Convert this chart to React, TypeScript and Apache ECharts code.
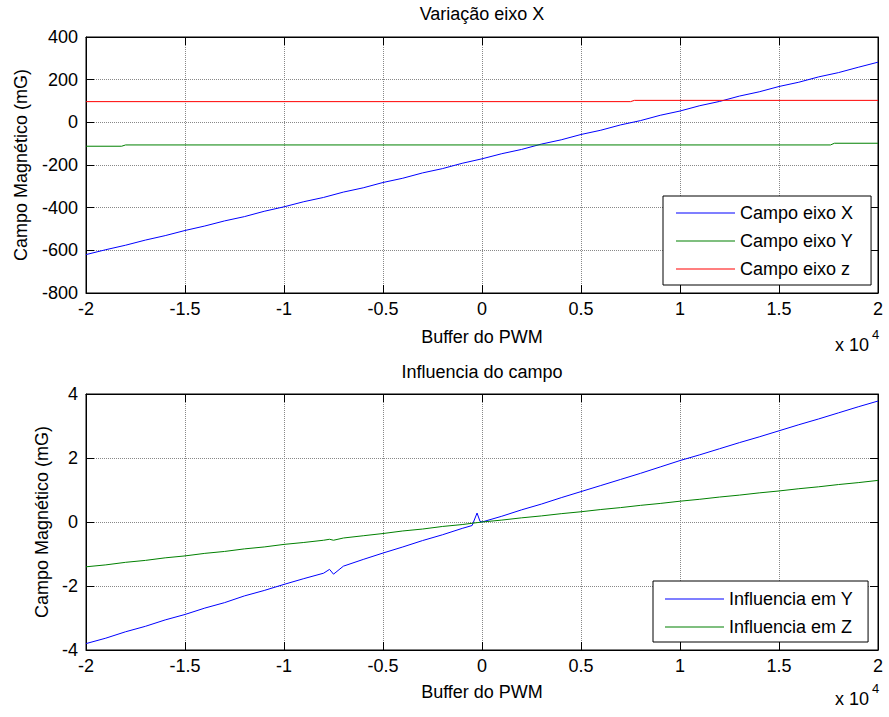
import React, { useEffect, useRef } from "react";
import * as echarts from "echarts";

const FONT = "Liberation Sans, Arial, Helvetica, sans-serif";

// ---- Top subplot: "Variação eixo X" ----
const pwmBuffer = [
  -20000, -19000, -18000, -17000, -16000, -15000, -14000, -13000, -12000, -11000,
  -10000, -9000, -8000, -7000, -6000, -5000, -4000, -3000, -2000, -1000,
  0, 1000, 2000, 3000, 4000, 5000, 6000, 7000, 8000, 9000,
  10000, 11000, 12000, 13000, 14000, 15000, 16000, 17000, 18000, 19000, 20000,
];
const campoEixoX = [
  -620, -597, -576, -552, -531, -507, -486, -462, -442, -417,
  -396, -372, -352, -327, -307, -282, -262, -237, -217, -192,
  -171, -147, -127, -102, -82, -57, -37, -12, 8, 33,
  53, 78, 98, 123, 143, 168, 188, 213, 233, 258, 282,
];
const campoEixoYX = [-20000, -18200, -18000, 17600, 17800, 20000];
const campoEixoY = [-112, -112, -106, -106, -98, -98];
const campoEixoZX = [-20000, 7500, 7700, 20000];
const campoEixoZ = [97, 97, 103, 103];

// ---- Bottom subplot: "Influencia do campo" ----
const pwmBuffer2 = [
  -20000, -19000, -18000, -17000, -16000, -15000, -14000, -13000, -12000, -11000,
  -10000, -9000, -8000, -7700, -7500, -7000, -6000, -5000, -4000, -3000,
  -2000, -1000, -500, -250, -100, 0, 1000, 2000, 3000, 4000,
  5000, 6000, 7000, 8000, 9000, 10000, 11000, 12000, 13000, 14000,
  15000, 16000, 17000, 18000, 19000, 20000,
];
const influenciaY = [
  -3.8, -3.63, -3.43, -3.26, -3.06, -2.89, -2.69, -2.52, -2.31, -2.14,
  -1.95, -1.77, -1.6, -1.48, -1.63, -1.38, -1.17, -0.97, -0.78, -0.58,
  -0.4, -0.2, -0.11, 0.28, 0.02, 0.0, 0.18, 0.38, 0.56, 0.76,
  0.95, 1.14, 1.33, 1.52, 1.72, 1.92, 2.1, 2.29, 2.48, 2.66,
  2.85, 3.04, 3.22, 3.41, 3.6, 3.78,
];
const influenciaZ = [
  -1.4, -1.34, -1.26, -1.2, -1.12, -1.06, -0.98, -0.92, -0.84, -0.78,
  -0.7, -0.64, -0.57, -0.54, -0.57, -0.5, -0.43, -0.36, -0.28, -0.22,
  -0.14, -0.08, -0.04, -0.02, -0.01, 0.0, 0.06, 0.13, 0.19, 0.26,
  0.32, 0.39, 0.45, 0.52, 0.58, 0.65, 0.71, 0.78, 0.84, 0.91,
  0.97, 1.04, 1.1, 1.17, 1.23, 1.3,
];

const xTickLabels = (v: number) => String(v / 10000);

const zip = (xs: number[], ys: number[]) => xs.map((x, i) => [x, ys[i]]);

const GRID_LINE = { color: "#888888", type: [1, 1], width: 1 };

function makeX(gridIndex: number, position: "bottom" | "top") {
  const main = position === "bottom";
  return {
    type: "value",
    gridIndex,
    position,
    min: -20000,
    max: 20000,
    interval: 5000,
    axisLine: { show: true, onZero: false, lineStyle: { color: "#000", width: 1 } },
    axisTick: { show: true, inside: true, length: 8, lineStyle: { color: "#000" } },
    axisLabel: {
      show: main,
      formatter: xTickLabels,
      fontSize: 18,
      color: "#000",
      fontFamily: FONT,
      margin: 7,
    },
    splitLine: { show: main, lineStyle: GRID_LINE },
  };
}

function makeY(gridIndex: number, position: "left" | "right", min: number, max: number, interval: number) {
  const main = position === "left";
  return {
    type: "value",
    gridIndex,
    position,
    min,
    max,
    interval,
    axisLine: { show: true, onZero: false, lineStyle: { color: "#000", width: 1 } },
    axisTick: { show: true, inside: true, length: 8, lineStyle: { color: "#000" } },
    axisLabel: {
      show: main,
      fontSize: 18,
      color: "#000",
      fontFamily: FONT,
      margin: 8,
    },
    splitLine: { show: main, lineStyle: GRID_LINE },
  };
}

function lineSeries(name: string, data: number[][], color: string, axisIdx: number) {
  return {
    name,
    type: "line",
    xAxisIndex: axisIdx,
    yAxisIndex: axisIdx,
    data,
    symbol: "none",
    showSymbol: false,
    clip: true,
    lineStyle: { color, width: 1 },
    itemStyle: { color },
    emphasis: { disabled: true },
  };
}

const legendBase = {
  orient: "vertical",
  selectedMode: false,
  backgroundColor: "#fff",
  borderColor: "#000",
  borderWidth: 1,
  borderRadius: 0,
  icon: "rect",
  itemWidth: 59,
  itemHeight: 1,
  itemGap: 8,
  textStyle: { fontSize: 18, color: "#000", fontFamily: FONT, lineHeight: 20 },
};

export default function App() {
  const ref = useRef<HTMLDivElement>(null);

  useEffect(() => {
    if (!ref.current) return;
    const chart = echarts.init(ref.current, undefined, { renderer: "svg" });
    const titleStyle = { fontSize: 18, fontWeight: "normal", color: "#000", fontFamily: FONT };
    const txt = (text: string, x: number, y: number, extra: any = {}) => ({
      type: "text",
      x,
      y,
      ...extra,
      style: { text, fontSize: 18, fill: "#000", fontFamily: FONT, align: "center", verticalAlign: "middle", ...(extra.style || {}) },
    });
    chart.setOption({
      animation: false,
      backgroundColor: "#fff",
      textStyle: { fontFamily: FONT },
      title: [
        { text: "Variação eixo X", left: 482, top: 5, textAlign: "center", padding: 0, textStyle: titleStyle },
        { text: "Influencia do campo", left: 482, top: 363, textAlign: "center", padding: 0, textStyle: titleStyle },
      ],
      grid: [
        { left: 86, top: 37, width: 792, height: 256, show: true, borderColor: "#000", borderWidth: 1, backgroundColor: "#fff" },
        { left: 86, top: 394, width: 792, height: 256, show: true, borderColor: "#000", borderWidth: 1, backgroundColor: "#fff" },
      ],
      xAxis: [makeX(0, "bottom"), makeX(0, "top"), makeX(1, "bottom"), makeX(1, "top")],
      yAxis: [
        makeY(0, "left", -800, 400, 200),
        makeY(0, "right", -800, 400, 200),
        makeY(1, "left", -4, 4, 2),
        makeY(1, "right", -4, 4, 2),
      ],
      legend: [
        {
          ...legendBase,
          data: ["Campo eixo X", "Campo eixo Y", "Campo eixo z"],
          left: 663,
          top: 196,
          padding: [7, 18, 6, 13],
        },
        {
          ...legendBase,
          data: ["Influencia em Y", "Influencia em Z"],
          left: 653,
          top: 581,
          padding: [8, 15, 5, 12],
        },
      ],
      graphic: [
        txt("Campo Magnético (mG)", 21, 165, { rotation: Math.PI / 2 }),
        txt("Campo Magnético (mG)", 42, 522, { rotation: Math.PI / 2 }),
        txt("Buffer do PWM", 482, 337),
        txt("Buffer do PWM", 482, 692),
        txt("x 10", 835, 345, { style: { align: "left" } }),
        txt("4", 872, 334, { style: { align: "left", fontSize: 13 } }),
        txt("x 10", 835, 699, { style: { align: "left" } }),
        txt("4", 872, 688, { style: { align: "left", fontSize: 13 } }),
      ],
      series: [
        lineSeries("Campo eixo X", zip(pwmBuffer, campoEixoX), "#0000ff", 0),
        lineSeries("Campo eixo Y", zip(campoEixoYX, campoEixoY), "#008000", 0),
        lineSeries("Campo eixo z", zip(campoEixoZX, campoEixoZ), "#ff0000", 0),
        lineSeries("Influencia em Y", zip(pwmBuffer2, influenciaY), "#0000ff", 2),
        lineSeries("Influencia em Z", zip(pwmBuffer2, influenciaZ), "#008000", 2),
      ],
    });
    return () => chart.dispose();
  }, []);

  return (
    <div
      ref={ref}
      style={{ position: "absolute", left: 0, top: 0, width: 889, height: 717, background: "#fff" }}
    />
  );
}
